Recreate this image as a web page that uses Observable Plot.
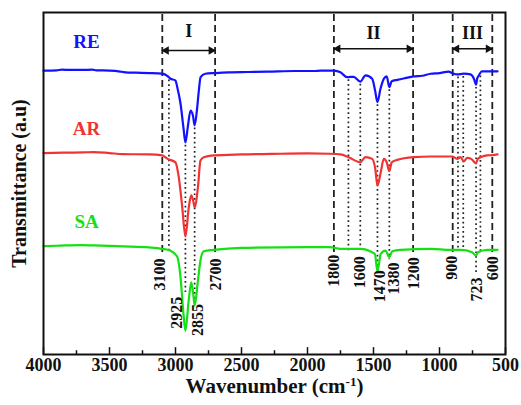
<!DOCTYPE html>
<html><head><meta charset="utf-8">
<script src="https://cdn.jsdelivr.net/npm/d3@7"></script>
<script src="https://cdn.jsdelivr.net/npm/@observablehq/plot@0.6"></script>
<style>body{margin:0;background:#fff}#chart svg{display:block}</style>
</head><body><div id="chart"></div>
<script>
// ---- data (transmittance in arbitrary offset units) ----
const reWave = [4000,3900,3860,3800,3700,3630,3600,3500,3430,3380,3300,3200,3100,3060,3040,3000,2987,2962,2940,2925,2907,2886,2868,2855,2838,2823,2810,2775,2700,2600,2450,2300,2100,1950,1900,1800,1750,1700,1650,1600,1560,1510,1488,1470,1447,1422,1400,1380,1362,1320,1260,1195,1130,1068,1000,930,904,866,816,765,740,723,715,702,680,620,560];
const reT    = [83.0,83.1,83.3,83.2,83.2,83.3,83.1,83.0,82.8,82.5,82.4,82.3,82.1,81.4,80.7,80.1,78.2,73.4,66.4,62.0,66.5,71.3,69.9,67.0,71.3,77.2,81.1,82.1,82.3,82.5,82.6,82.7,82.9,82.9,83.0,83.0,82.5,81.1,81.2,79.8,81.6,80.6,77.2,73.8,77.7,80.6,81.3,78.2,79.9,80.3,80.8,81.3,81.5,82.1,82.3,82.7,82.3,81.9,82.1,81.9,80.7,78.9,80.6,81.6,82.8,82.8,82.8];
const arWave = [4000,3850,3700,3620,3500,3400,3200,3100,3060,3000,2975,2949,2925,2899,2881,2866,2855,2830,2811,2786,2712,2500,2200,2000,1830,1750,1690,1600,1561,1510,1487,1470,1445,1422,1400,1380,1362,1320,1195,1068,904,866,841,816,790,760,723,710,680,639,600,560];
const arT    = [58.9,59.0,59.1,59.2,58.9,58.6,58.5,58.2,57.2,56.2,51.8,43.1,34.5,43.1,46.5,45.0,43.1,48.9,56.7,57.7,58.2,58.5,58.7,58.8,58.7,58.5,57.7,56.2,57.7,57.2,54.4,49.4,53.3,57.2,56.2,53.6,56.2,56.9,57.7,57.9,57.9,57.2,57.7,56.5,57.5,57.2,55.9,57.2,57.8,58.2,58.3,58.5];
const saWave = [4000,3900,3720,3620,3400,3200,3100,3040,2987,2962,2940,2925,2900,2881,2866,2855,2830,2811,2786,2712,2500,2000,1830,1750,1600,1490,1470,1445,1410,1380,1358,1295,1068,917,841,752,723,708,639,560];
const saT    = [31.7,31.8,32.0,31.9,31.6,31.3,30.9,30.4,28.6,22.6,12.0,7.0,15.8,21.1,17.8,14.3,21.6,27.5,30.2,30.6,31.2,31.4,31.4,30.9,30.9,29.4,24.3,29.4,30.4,28.5,30.2,30.6,30.9,30.6,30.6,29.9,28.9,29.9,30.6,30.6];

const seriesNames  = ["RE", "AR", "SA"];
const regionNames  = ["I", "II", "III"];
const regionStart  = [3100, 1800, 900];
const regionEnd    = [2700, 1200, 600];
const dashedLines  = [3100, 2700, 1800, 1200, 900, 600];
const dottedLines  = [3050, 2925, 2855, 1690, 1600, 1470, 1380, 860, 820, 723, 690];
const peakLabels   = [3100, 2925, 2855, 2700, 1800, 1600, 1470, 1380, 1200, 900, 723, 600];
const xTicks       = [4000, 3500, 3000, 2500, 2000, 1500, 1000, 500];
const xMinorTicks  = [3750, 3250, 2750, 2250, 1750, 1250, 750];

// ---- layout / style (not data) ----
const font = "'Liberation Serif','Times New Roman',serif";
const colors = {RE: "#1212ff", AR: "#f03434", SA: "#14e014"};
const seriesLabelPos = {RE: [3674, 91.5], AR: [3674, 66.1], SA: [3674, 38.9]};
const labelLayout = {
  3100: {top: 28.1, dx: -2}, 2925: {top: 16.9, dx: -9}, 2855: {top: 14.8, dx: 3},
  2700: {top: 28.1, dx: 1}, 1800: {top: 29.2, dx: 0}, 1600: {top: 28.7, dx: 0},
  1470: {top: 24.6, dx: 2}, 1380: {top: 26.9, dx: 5}, 1200: {top: 28.4, dx: 1},
  900: {top: 28.9, dx: -1}, 723: {top: 22.5, dx: 1}, 600: {top: 28.7, dx: 1}
};

const seriesRows = (name, W, T) => W.map((w, i) => ({s: name, w, t: T[i]}));
const reRows = seriesRows("RE", reWave, reT);
const arRows = seriesRows("AR", arWave, arT);
const saRows = seriesRows("SA", saWave, saT);

function interp(W, T, w) {
  for (let i = 0; i < W.length - 1; i++) {
    if (W[i] >= w && w >= W[i + 1]) {
      const f = (W[i] - w) / (W[i] - W[i + 1]);
      return T[i] + f * (T[i + 1] - T[i]);
    }
  }
  return T[T.length - 1];
}
const dottedRows = dottedLines.map(w => ({
  w,
  y1: interp(reWave, reT, w) - 0.8,
  y2: labelLayout[w] ? labelLayout[w].top + 0.8 : 30.2
}));
const regions = regionNames.map((n, i) => ({n, a: regionStart[i], b: regionEnd[i], c: (regionStart[i] + regionEnd[i]) / 2, y: i === 0 ? 88.9 : 89.4, ly: i === 0 ? 94.4 : 94.0}));

const labelMarks = peakLabels.map(w => Plot.text([w], {
  x: d => d, y: labelLayout[w].top, text: d => String(d), rotate: -90,
  textAnchor: "end", lineAnchor: "middle", dx: labelLayout[w].dx,
  fontSize: 16, fontWeight: "bold", fill: "#111"
}));

const plot = Plot.plot({
  width: 521, height: 405,
  marginLeft: 43, marginRight: 16, marginTop: 12, marginBottom: 51,
  style: {fontFamily: font, fontWeight: "bold", background: "#fff", color: "#111"},
  x: {domain: [4000, 500]},
  y: {domain: [0, 100], axis: null},
  marks: [
    Plot.ruleX(dashedLines, {x: d => d, y1: 29.8, y2: 100, stroke: "#222", strokeWidth: 1.8, strokeDasharray: "7,4"}),
    Plot.ruleX(dottedRows, {x: "w", y1: "y1", y2: "y2", stroke: "#222", strokeWidth: 1.7, strokeDasharray: "1.7,3"}),
    Plot.line(saRows, {x: "w", y: "t", stroke: colors.SA, strokeWidth: 2.2, curve: "monotone-x"}),
    Plot.line(arRows, {x: "w", y: "t", stroke: colors.AR, strokeWidth: 2.2, curve: "monotone-x"}),
    Plot.line(reRows, {x: "w", y: "t", stroke: colors.RE, strokeWidth: 2.2, curve: "monotone-x"}),
    ...labelMarks,
    Plot.text(seriesNames, {x: d => seriesLabelPos[d][0], y: d => seriesLabelPos[d][1], text: d => d, fill: d => colors[d], fontSize: 19, fontWeight: "bold"}),
    Plot.link(regions, {x1: "a", x2: "b", y1: "y", y2: "y", stroke: "#111", strokeWidth: 1.6}),
    Plot.dot(regions, {x: "a", y: "y", rotate: -90, dx: 4, symbol: "triangle", r: 3.2, fill: "#111", stroke: "none"}),
    Plot.dot(regions, {x: "b", y: "y", rotate: 90, dx: -4, symbol: "triangle", r: 3.2, fill: "#111", stroke: "none"}),
    Plot.text(regions, {x: "c", y: "ly", text: "n", fontSize: 18, fontWeight: "bold", fill: "#111"}),
    Plot.ruleX(xTicks, {x: d => d, y1: 0, y2: 2.0, stroke: "#111", strokeWidth: 1.5}),
    Plot.ruleX(xMinorTicks, {x: d => d, y1: 0, y2: 1.1, stroke: "#111", strokeWidth: 1.5}),
    Plot.axisX({ticks: xTicks, tickFormat: d => String(d), tickSize: 0, tickPadding: 4, fontSize: 18, fontWeight: "bold", label: null}),
    Plot.text(["Transmittance (a.u)"], {frameAnchor: "left", textAnchor: "middle", lineAnchor: "middle", dx: -24, rotate: -90, text: d => d, fontSize: 20, fontWeight: "bold", fill: "#111"}),
    Plot.text(["Wavenumber (cm"], {frameAnchor: "bottom", textAnchor: "middle", dy: 38, text: d => d, fontSize: 21, fontWeight: "bold", fill: "#111"}),
    Plot.frame({stroke: "#111", strokeWidth: 2})
  ]
});

d3.select(plot).selectAll("text").filter(function () { return this.textContent === "Wavenumber (cm"; })
  .each(function () {
    const t = d3.select(this);
    t.text(null);
    t.append("tspan").text("Wavenumber (cm");
    t.append("tspan").attr("baseline-shift", "super").attr("font-size", "13px").text("-1");
    t.append("tspan").text(")");
  });

document.getElementById("chart").appendChild(plot);
</script>
</body></html>
